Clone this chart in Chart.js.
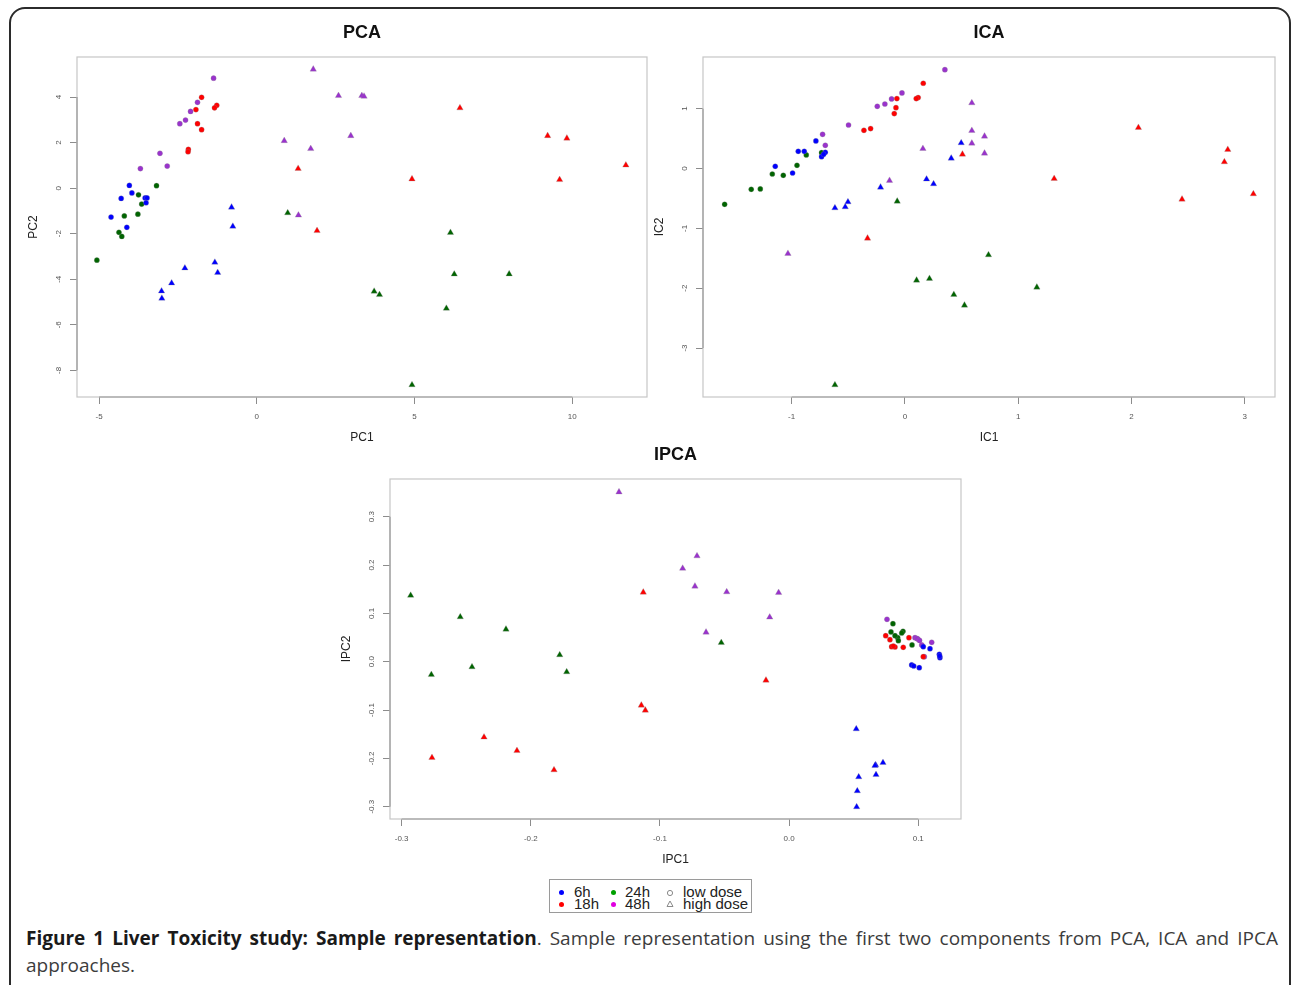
<!DOCTYPE html>
<html>
<head>
<meta charset="utf-8">
<script src="https://cdn.jsdelivr.net/npm/chart.js@4.4.1/dist/chart.umd.min.js"></script>
<style>
body { margin: 0; background: #fff; width: 1292px; height: 985px; overflow: hidden; position: relative; font-family: "Liberation Sans", Arial, sans-serif; }
#frame { position: absolute; left: 9px; top: 7px; width: 1278px; height: 995px; border: 2px solid #2b2b2b; border-radius: 16px; }
canvas { position: absolute; }
#legend { position: absolute; left: 549px; top: 879px; width: 201px; height: 32px; border: 1px solid #9a9a9a; }
.lt { position: absolute; font-size: 15px; line-height: 12px; color: #222; white-space: nowrap; }
.dot { position: absolute; width: 5px; height: 5px; border-radius: 50%; }
#caption { position: absolute; left: 26px; top: 925px; width: 1252px; font-family: "Open Sans", sans-serif; font-size: 19px; line-height: 27px; color: #3c3c3c; }
#caption .l1 { text-align: justify; text-align-last: justify; }
#caption b { color: #1a1a1a; }
</style>
</head>
<body>
<div id="frame"></div>
<canvas id="pca" width="640" height="442" style="left:17px;top:11px"></canvas>
<canvas id="ica" width="642" height="442" style="left:643px;top:11px"></canvas>
<canvas id="ipca" width="641" height="442" style="left:330px;top:433px"></canvas>

<div id="legend"></div>
<div id="caption">
  <div class="l1"><b>Figure 1 Liver Toxicity study: Sample representation</b>. Sample representation using the first two components from PCA, ICA and IPCA</div>
  <div>approaches.</div>
</div>

<script>
// groups: time point x dose (circle = low dose, triangle = high dose)
const groups = ['6h', '18h', '24h', '48h'];
const groupColors = ['#0000ff', '#ff0000', '#006400', '#9a32cd'];
const legendColors = ['#0000ff', '#ff0000', '#00a000', '#e000e0'];

// PCA
const pcaXTicks = [-5, 0, 5, 10];
const pcaXLabels = ['-5', '0', '5', '10'];
const pcaYTicks = [-8, -6, -4, -2, 0, 2, 4];
const pcaYLabels = ['-8', '-6', '-4', '-2', '0', '2', '4'];
const pca6hLow = [[-4.04,0.12],[-3.96,-0.21],[-4.30,-0.45],[-3.54,-0.43],[-3.48,-0.43],[-3.51,-0.64],[-4.62,-1.27],[-4.12,-1.72]];
const pca6hHigh = [[-0.80,-0.84],[-0.76,-1.68],[-1.33,-3.26],[-1.24,-3.71],[-2.28,-3.51],[-2.70,-4.17],[-3.02,-4.52],[-3.01,-4.84]];
const pca18hLow = [[-1.75,3.99],[-1.93,3.45],[-1.27,3.64],[-1.34,3.53],[-1.88,2.83],[-1.75,2.57],[-2.17,1.70],[-2.18,1.60]];
const pca18hHigh = [[1.31,0.86],[1.91,-1.87],[6.44,3.52],[9.22,2.30],[9.83,2.19],[11.70,1.01],[4.92,0.40],[9.60,0.37]];
const pca24hLow = [[-3.18,0.11],[-3.75,-0.29],[-3.65,-0.70],[-4.20,-1.22],[-3.77,-1.14],[-4.37,-1.94],[-4.28,-2.12],[-5.07,-3.16]];
const pca24hHigh = [[0.98,-1.09],[6.14,-1.95],[6.26,-3.78],[8.00,-3.77],[3.72,-4.53],[3.89,-4.68],[6.01,-5.28],[4.92,-8.64]];
const pca48hLow = [[-1.37,4.83],[-1.88,3.77],[-2.10,3.37],[-2.26,2.99],[-2.44,2.83],[-3.07,1.53],[-2.84,0.97],[-3.69,0.86]];
const pca48hHigh = [[1.79,5.22],[2.59,4.06],[3.33,4.06],[3.40,4.03],[2.98,2.30],[0.87,2.08],[1.71,1.73],[1.32,-1.19]];

// ICA
const icaXTicks = [-1, 0, 1, 2, 3];
const icaXLabels = ['-1', '0', '1', '2', '3'];
const icaYTicks = [-3, -2, -1, 0, 1];
const icaYLabels = ['-3', '-2', '-1', '0', '1'];
const ica6hLow = [[-0.786,0.460],[-0.942,0.287],[-0.889,0.287],[-0.703,0.270],[-0.736,0.198],[-0.718,0.237],[-1.145,0.037],[-0.992,-0.075]];
const ica6hHigh = [[0.497,0.426],[0.409,0.170],[0.191,-0.180],[0.253,-0.259],[-0.215,-0.314],[-0.503,-0.560],[-0.527,-0.643],[-0.618,-0.660]];
const ica18hLow = [[0.162,1.424],[0.117,1.185],[0.100,1.168],[-0.071,1.168],[-0.079,1.017],[-0.094,0.917],[-0.303,0.667],[-0.362,0.638]];
const ica18hHigh = [[0.508,0.237],[-0.330,-1.166],[2.062,0.683],[2.851,0.316],[2.821,0.109],[3.077,-0.426],[2.447,-0.515],[1.318,-0.169]];
const ica24hLow = [[-0.736,0.265],[-0.871,0.226],[-0.953,0.053],[-1.171,-0.092],[-1.074,-0.114],[-1.357,-0.348],[-1.277,-0.342],[-1.592,-0.598]];
const ica24hHigh = [[-0.068,-0.548],[0.103,-1.868],[0.217,-1.840],[0.432,-2.107],[0.526,-2.286],[-0.618,-3.617],[0.738,-1.445],[1.165,-1.985]];
const ica48hLow = [[0.353,1.652],[-0.026,1.262],[-0.118,1.162],[-0.177,1.078],[-0.244,1.039],[-0.498,0.727],[-0.727,0.571],[-0.703,0.388]];
const ica48hHigh = [[0.591,1.095],[0.591,0.633],[0.591,0.421],[0.703,0.538],[0.703,0.254],[0.159,0.332],[-0.136,-0.202],[-1.033,-1.422]];

// IPCA
const ipcaXTicks = [-0.3, -0.2, -0.1, 0, 0.1];
const ipcaXLabels = ['-0.3', '-0.2', '-0.1', '0.0', '0.1'];
const ipcaYTicks = [-0.3, -0.2, -0.1, 0, 0.1, 0.2, 0.3];
const ipcaYLabels = ['-0.3', '-0.2', '-0.1', '0.0', '0.1', '0.2', '0.3'];
const ipca6hLow = [[0.1039,0.0310],[0.1091,0.0269],[0.1163,0.0153],[0.1168,0.0083],[0.1166,0.0118],[0.0949,-0.0068],[0.0965,-0.0089],[0.1008,-0.0124]];
const ipca6hHigh = [[0.0520,-0.1393],[0.0727,-0.2090],[0.0670,-0.2137],[0.0673,-0.2338],[0.0539,-0.2386],[0.0528,-0.2675],[0.0523,-0.3006],[0.0665,-0.2150]];
const ipca18hLow = [[0.0748,0.0538],[0.0781,0.0455],[0.0794,0.0310],[0.0820,0.0304],[0.0884,0.0298],[0.0928,0.0497],[0.1039,0.0103],[0.0807,0.0325]];
const ipca18hHigh = [[-0.1129,0.1436],[-0.1144,-0.0902],[-0.1113,-0.1006],[-0.2362,-0.1564],[-0.2107,-0.1842],[-0.2765,-0.1986],[-0.1820,-0.2241],[-0.0179,-0.0385]];
const ipca24hLow = [[0.0804,0.0786],[0.0789,0.0615],[0.0841,0.0497],[0.0846,0.0435],[0.0882,0.0629],[0.0872,0.0594],[0.0952,0.0346],[0.0820,0.0538]];
const ipca24hHigh = [[-0.2930,0.1370],[-0.2546,0.0925],[-0.2192,0.0670],[-0.1776,0.0139],[-0.1722,-0.0213],[-0.2455,-0.0110],[-0.2770,-0.0269],[-0.0525,0.0393]];
const ipca48hLow = [[0.0758,0.0877],[0.1104,0.0401],[0.1047,0.0103],[0.0975,0.0497],[0.0996,0.0470],[0.1027,0.0346],[0.0990,0.0480],[0.1010,0.0440]];
const ipca48hHigh = [[-0.1317,0.3510],[-0.0824,0.1930],[-0.0713,0.2187],[-0.0729,0.1560],[-0.0483,0.1442],[-0.0081,0.1428],[-0.0150,0.0919],[-0.0643,0.0608]];

Chart.defaults.font.family = '"Liberation Sans", Arial, sans-serif';

// R style box, axis lines over the tick range and rotated y tick labels
const rBox = {
    id: 'rBox',
    beforeDatasetsDraw(chart, args, opts) {
        const {ctx, chartArea: a, scales} = chart;
        ctx.save();
        ctx.strokeStyle = '#c6c6c6';
        ctx.lineWidth = 1.2;
        ctx.strokeRect(a.left, a.top, a.right - a.left, a.bottom - a.top);

        const xt = scales.x.ticks, yt = scales.y.ticks;
        ctx.strokeStyle = '#9a9a9a';
        ctx.beginPath();
        ctx.moveTo(scales.x.getPixelForValue(xt[0].value), a.bottom);
        ctx.lineTo(scales.x.getPixelForValue(xt[xt.length - 1].value), a.bottom);
        ctx.moveTo(a.left, scales.y.getPixelForValue(yt[0].value));
        ctx.lineTo(a.left, scales.y.getPixelForValue(yt[yt.length - 1].value));
        ctx.stroke();

        ctx.fillStyle = '#555';
        ctx.font = '8px "Liberation Sans", Arial, sans-serif';
        ctx.textAlign = 'center';
        ctx.textBaseline = 'middle';
        yt.forEach((t, i) => {
            ctx.save();
            ctx.translate(a.left - 18, scales.y.getPixelForValue(t.value));
            ctx.rotate(-Math.PI / 2);
            ctx.fillText(opts.yLabels[i], 0, 0);
            ctx.restore();
        });
        ctx.restore();
    }
};

function makeDatasets(lowSets, highSets) {
    let sets = [];
    groups.forEach((g, i) => {
        sets.push({
            label: g + ' low dose',
            data: lowSets[i].map(p => ({x: p[0], y: p[1]})),
            pointStyle: 'circle',
            pointRadius: 2.6,
            backgroundColor: groupColors[i],
            borderColor: 'rgba(140,140,140,0.35)',
            borderWidth: 0.8
        });
        sets.push({
            label: g + ' high dose',
            data: highSets[i].map(p => ({x: p[0], y: p[1]})),
            pointStyle: 'triangle',
            pointRadius: 3.7,
            backgroundColor: groupColors[i],
            borderColor: 'rgba(140,140,140,0.35)',
            borderWidth: 0.8
        });
    });
    return sets;
}

function makeChart(id, title, xTitle, yTitle, xRange, yRange, xTicks, xLabels, yTicks, yLabels, lowSets, highSets) {
    const grid = {drawOnChartArea: false, drawTicks: true, tickLength: 7, color: '#8c8c8c', lineWidth: 1};
    return new Chart(document.getElementById(id), {
        type: 'scatter',
        data: {datasets: makeDatasets(lowSets, highSets)},
        plugins: [rBox],
        options: {
            responsive: false,
            animation: false,
            devicePixelRatio: 1,
            layout: {padding: {left: 0, top: 0, right: 10, bottom: 0}},
            plugins: {
                legend: {display: false},
                tooltip: {enabled: false},
                title: {
                    display: true,
                    text: title,
                    fullSize: false,
                    color: '#111',
                    font: {size: 18, weight: 'bold'},
                    padding: {top: 11.5, bottom: 12.9}
                },
                rBox: {yLabels: yLabels}
            },
            scales: {
                x: {
                    type: 'linear',
                    min: xRange[0],
                    max: xRange[1],
                    afterBuildTicks: s => { s.ticks = xTicks.map(v => ({value: v})); },
                    afterFit: s => { s.height = 56; },
                    grid: grid,
                    border: {display: false},
                    ticks: {
                        font: {size: 8},
                        color: '#555',
                        padding: 8,
                        autoSkip: false,
                        maxRotation: 0,
                        minRotation: 0,
                        callback: (v, i) => xLabels[i]
                    },
                    title: {display: true, text: xTitle, color: '#222', font: {size: 12}, padding: {top: 0, bottom: 8.5}}
                },
                y: {
                    type: 'linear',
                    min: yRange[0],
                    max: yRange[1],
                    afterBuildTicks: s => { s.ticks = yTicks.map(v => ({value: v})); },
                    afterFit: s => { s.width = 60; },
                    grid: grid,
                    border: {display: false},
                    ticks: {display: false},
                    title: {display: true, text: yTitle, color: '#222', font: {size: 12}, padding: {top: 9.8, bottom: 0}}
                }
            }
        }
    });
}

makeChart('pca', 'PCA', 'PC1', 'PC2', [-5.70, 12.37], [-9.17, 5.76],
    pcaXTicks, pcaXLabels, pcaYTicks, pcaYLabels,
    [pca6hLow, pca18hLow, pca24hLow, pca48hLow], [pca6hHigh, pca18hHigh, pca24hHigh, pca48hHigh]);

makeChart('ica', 'ICA', 'IC1', 'IC2', [-1.783, 3.268], [-3.818, 1.863],
    icaXTicks, icaXLabels, icaYTicks, icaYLabels,
    [ica6hLow, ica18hLow, ica24hLow, ica48hLow], [ica6hHigh, ica18hHigh, ica24hHigh, ica48hHigh]);

makeChart('ipca', 'IPCA', 'IPC1', 'IPC2', [-0.309, 0.1331], [-0.3255, 0.378],
    ipcaXTicks, ipcaXLabels, ipcaYTicks, ipcaYLabels,
    [ipca6hLow, ipca18hLow, ipca24hLow, ipca48hLow], [ipca6hHigh, ipca18hHigh, ipca24hHigh, ipca48hHigh]);

// legend like R's legend(): colours for time, symbols for dose
const legend = document.getElementById('legend');
let html = '';
groups.forEach((g, i) => {
    const col = Math.floor(i / 2);
    const row = i % 2;
    html += `<span class="dot" style="left:${9 + col * 52}px;top:${10 + row * 11.5}px;background:${legendColors[i]}"></span>`;
    html += `<span class="lt" style="left:${24 + col * 51}px;top:${6 + row * 12}px">${g}</span>`;
});
html += `<svg style="position:absolute;left:116px;top:9px" width="8" height="8"><circle cx="4" cy="4" r="2.6" fill="none" stroke="#8a8a8a" stroke-width="1"/></svg>`;
html += `<svg style="position:absolute;left:116px;top:20px" width="8" height="8"><polygon points="4,1 7,6.5 1,6.5" fill="none" stroke="#8a8a8a" stroke-width="1"/></svg>`;
html += `<span class="lt" style="left:133px;top:6px">low dose</span>`;
html += `<span class="lt" style="left:133px;top:18px">high dose</span>`;
legend.innerHTML = html;
</script>
</body>
</html>
